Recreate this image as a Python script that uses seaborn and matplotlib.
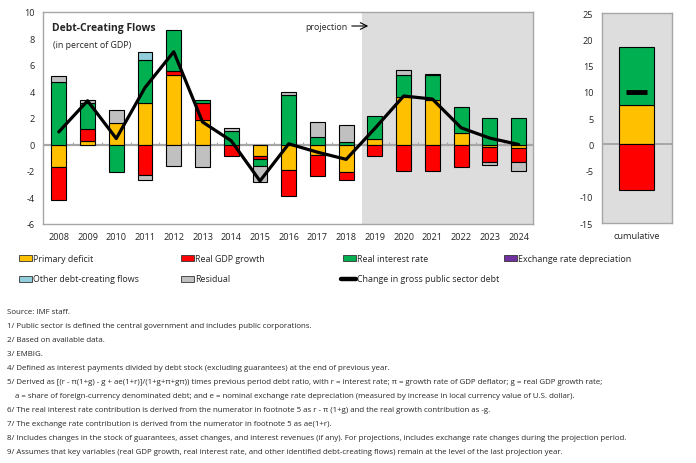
import numpy as np
import matplotlib
matplotlib.use("Agg")
import matplotlib.pyplot as plt
from matplotlib.patches import Rectangle
from matplotlib.lines import Line2D
from matplotlib import font_manager
import seaborn as sns

# ---------------- data ----------------
years = ["2008", "2009", "2010", "2011", "2012", "2013", "2014", "2015", "2016",
         "2017", "2018", "2019", "2020", "2021", "2022", "2023", "2024"]
primary_deficit = [-1.73, 0.30, 1.66, 3.12, 5.23, 1.88, 0.00, -0.88, -1.93,
                   -0.83, -2.06, 0.38, 3.57, 3.37, 0.86, -0.21, -0.23]
real_gdp_growth = [-2.47, 0.86, 0.00, -2.29, 0.30, 1.26, -0.90, -0.20, -1.97,
                   -1.57, -0.60, -0.90, -1.99, -1.99, -1.68, -1.14, -1.12]
real_interest_rate = [4.72, 2.00, -2.11, 3.24, 3.11, 0.23, 1.03, -0.52, 3.77,
                      0.60, 0.16, 1.76, 1.68, 1.86, 1.94, 2.00, 2.00]
exchange_rate_dep = [0.0] * 17
other_flows = [0.0, 0.0, 0.0, 0.65, 0.0, 0.0, 0.0, 0.0, 0.0,
               0.0, 0.0, 0.0, 0.0, 0.0, 0.0, 0.0, 0.0]
residual = [0.48, 0.17, 0.98, -0.42, -1.66, -1.73, 0.22, -1.20, 0.20,
            1.13, 1.34, 0.0, 0.38, 0.12, 0.0, -0.18, -0.68]
change_in_debt = [0.95, 3.30, 0.45, 4.30, 7.00, 1.70, 0.28, -2.75, 0.05,
                  -0.58, -1.12, 1.22, 3.66, 3.43, 1.26, 0.48, 0.00]

cum_primary = 7.48
cum_real_gdp = -8.80
cum_real_interest = 11.12
cum_change_in_debt = 9.9

series_labels = ["Primary deficit", "Real GDP growth", "Real interest rate",
                 "Exchange rate depreciation", "Other debt-creating flows", "Residual"]
series_colors = ["#FFC000", "#FF0000", "#00B050", "#7030A0", "#92CDDC", "#C0C0C0"]
line_label = "Change in gross public sector debt"

footnotes = [
    "Source: IMF staff.",
    "1/ Public sector is defined the central government and includes public corporations.",
    "2/ Based on available data.",
    "3/ EMBIG.",
    "4/ Defined as interest payments divided by debt stock (excluding guarantees) at the end of previous year.",
    "5/ Derived as [(r - \u03c0(1+g) - g + ae(1+r)]/(1+g+\u03c0+g\u03c0)) times previous period debt ratio, with r = interest rate; \u03c0 = growth rate of GDP deflator; g = real GDP growth rate;",
    "    a = share of foreign-currency denominated debt; and e = nominal exchange rate depreciation (measured by increase in local currency value of U.S. dollar).",
    "6/ The real interest rate contribution is derived from the numerator in footnote 5 as r - \u03c0 (1+g) and the real growth contribution as -g.",
    "7/ The exchange rate contribution is derived from the numerator in footnote 5 as ae(1+r).",
    "8/ Includes changes in the stock of guarantees, asset changes, and interest revenues (if any). For projections, includes exchange rate changes during the projection period.",
    "9/ Assumes that key variables (real GDP growth, real interest rate, and other identified debt-creating flows) remain at the level of the last projection year.",
]

# ---------------- style ----------------
sns.set_theme(style="white")
plt.rcParams["font.family"] = ["Open Sans", "DejaVu Sans"]
plt.rcParams["axes.unicode_minus"] = False

installed = {f.name for f in font_manager.fontManager.ttflist}
foot_family = ["Liberation Sans Narrow", "DejaVu Sans"] if "Liberation Sans Narrow" in installed \
    else ["Open Sans", "DejaVu Sans"]

W, H = 696, 464
fig = plt.figure(figsize=(W / 100, H / 100), dpi=100)
fig.patch.set_facecolor("white")

def fx(px):
    return px / W

def fy(py):
    return 1 - py / H

spine_col = "#A6A6A6"
text_col = "#262626"

# ---------------- main axes ----------------
ax = fig.add_axes([fx(43), fy(225), fx(533 - 43), (225 - 13) / H])
x = np.arange(len(years))
ax.set_xlim(-0.55, len(years) - 0.5)
ax.set_ylim(-6, 10)

# projection shading (between 2018 and 2019 to the right edge)
ax.axvspan(10.55, len(years), color="#DDDDDD", zorder=0, lw=0)
ax.axhline(0, color="#A6A6A6", lw=1.6, zorder=1)
ax.vlines(np.arange(len(years) - 1) + 0.5, 0, 0.22, color="#A6A6A6", lw=0.8, zorder=1)

all_series = [primary_deficit, real_gdp_growth, real_interest_rate,
              exchange_rate_dep, other_flows, residual]
pos_base = np.zeros(len(years))
neg_base = np.zeros(len(years))
for vals, col in zip(all_series, series_colors):
    v = np.asarray(vals, dtype=float)
    pos = np.where(v > 0, v, 0)
    neg = np.where(v < 0, v, 0)
    mp = pos > 0
    mn = neg < 0
    if mp.any():
        ax.bar(x[mp], pos[mp], bottom=pos_base[mp], width=0.52, color=col,
               edgecolor="black", linewidth=0.8, zorder=3)
    if mn.any():
        ax.bar(x[mn], neg[mn], bottom=neg_base[mn], width=0.52, color=col,
               edgecolor="black", linewidth=0.8, zorder=3)
    pos_base += pos
    neg_base += neg

sns.lineplot(x=x, y=change_in_debt, color="black", lw=2.3, ax=ax, zorder=5,
             legend=False)

ax.set_xticks(x)
ax.set_xticklabels(years)
ax.set_yticks(np.arange(-6, 11, 2))
ax.tick_params(axis="both", labelsize=6.6, colors=text_col, length=0, pad=6)
for s in ax.spines.values():
    s.set_color(spine_col)
    s.set_linewidth(1.0)
ax.set_xlabel("")
ax.set_ylabel("")

ax.text(fx(52), fy(29), "Debt-Creating Flows", transform=fig.transFigure,
        fontsize=7.5, fontweight="bold", color=text_col, va="center", ha="left")
ax.text(fx(53), fy(45), "(in percent of GDP)", transform=fig.transFigure,
        fontsize=6.4, color=text_col, va="center", ha="left")
ax.text(fx(305), fy(27), "projection", transform=fig.transFigure,
        fontsize=6.4, color=text_col, va="center", ha="left")
ax.annotate("", xy=(fx(371), fy(27)), xytext=(fx(349), fy(27)),
            xycoords="figure fraction", textcoords="figure fraction",
            arrowprops=dict(arrowstyle="->", color="black", lw=0.8))

# ---------------- cumulative axes ----------------
ax2 = fig.add_axes([fx(601.7), fy(224), fx(671.7 - 601.7), (224 - 14) / H])
ax2.set_facecolor("#DDDDDD")
ax2.set_xlim(-0.5, 0.5)
ax2.set_ylim(-15, 25)
ax2.axhline(0, color="#A6A6A6", lw=1.4, zorder=1)
ax2.bar([0], [cum_primary], width=0.5, color=series_colors[0],
        edgecolor="black", linewidth=0.8, zorder=3)
ax2.bar([0], [cum_real_interest], bottom=[cum_primary], width=0.5,
        color=series_colors[2], edgecolor="black", linewidth=0.8, zorder=3)
ax2.bar([0], [cum_real_gdp], width=0.5, color=series_colors[1],
        edgecolor="black", linewidth=0.8, zorder=3)
ax2.hlines([cum_change_in_debt], -0.15, 0.15, color="black", lw=3.5, zorder=5)
ax2.set_xticks([0])
ax2.set_xticklabels(["cumulative"])
ax2.set_yticks(np.arange(-15, 26, 5))
ax2.tick_params(axis="both", labelsize=6.6, colors=text_col, length=0, pad=6)
for s in ax2.spines.values():
    s.set_color(spine_col)
    s.set_linewidth(1.0)

# ---------------- legend ----------------
leg_items = [
    (0, 19, 259), (1, 181, 259), (2, 343, 259), (3, 504, 259),
    (4, 19, 280), (5, 181, 280),
]
for idx, px, py in leg_items:
    fig.patches.append(Rectangle((fx(px), fy(py + 3)), fx(13), 6 / H,
                                 transform=fig.transFigure, facecolor=series_colors[idx],
                                 edgecolor="#333333", linewidth=0.6))
    fig.text(fx(px + 14), fy(py), series_labels[idx], fontsize=6.4,
             color=text_col, va="center", ha="left")
fig.lines.append(Line2D([fx(341), fx(356)], [fy(280), fy(280)],
                        transform=fig.transFigure, color="black", lw=3.2,
                        solid_capstyle="round"))
fig.text(fx(357), fy(280), line_label, fontsize=6.4, color=text_col,
         va="center", ha="left")

# ---------------- footnotes ----------------
renderer = fig.canvas.get_renderer()
texts = []
for i, line in enumerate(footnotes):
    t = fig.text(fx(7), fy(313 + 14 * i), line, fontsize=5.5, color=text_col,
                 va="center", ha="left", family=foot_family)
    texts.append(t)
# fit footnote size to target width of footnote 8 (ends near x=622)
w8 = texts[9].get_window_extent(renderer).width
scale = (622 - 7) / w8
for t in texts:
    t.set_fontsize(5.5 * scale)

fig.savefig("out.png", dpi=100, facecolor="white")
